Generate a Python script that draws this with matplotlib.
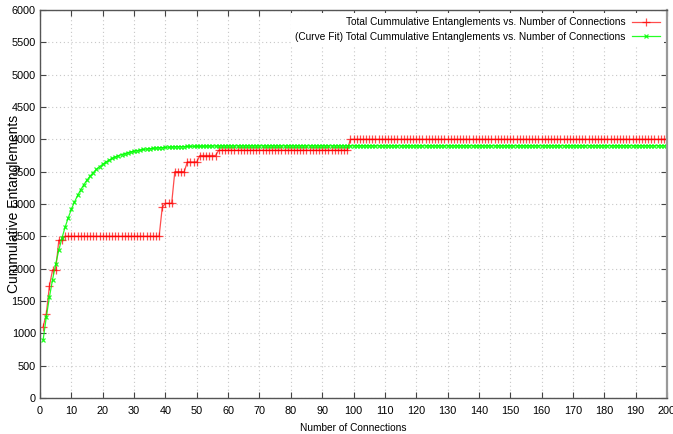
import matplotlib.pyplot as plt

# connection index 1..200
connections = list(range(1, 201))

# observed cumulative entanglements (step-like growth)
total_entanglements = [
    1100, 1300, 1730, 1980, 1980, 2440, 2440, 2500, 2500, 2500,
    2500, 2500, 2500, 2500, 2500, 2500, 2500, 2500, 2500, 2500,
    2500, 2500, 2500, 2500, 2500, 2500, 2500, 2500, 2500, 2500,
    2500, 2500, 2500, 2500, 2500, 2500, 2500, 2500, 2950, 3010,
    3010, 3010, 3500, 3500, 3500, 3500, 3650, 3650, 3650, 3650,
    3750, 3750, 3750, 3750, 3750, 3750, 3830, 3830, 3830, 3830,
    3830, 3830, 3830, 3830, 3830, 3830, 3830, 3830, 3830, 3830,
    3830, 3830, 3830, 3830, 3830, 3830, 3830, 3830, 3830, 3830,
    3830, 3830, 3830, 3830, 3830, 3830, 3830, 3830, 3830, 3830,
    3830, 3830, 3830, 3830, 3830, 3830, 3830, 3830, 4000, 4000,
    4000, 4000, 4000, 4000, 4000, 4000, 4000, 4000, 4000, 4000,
    4000, 4000, 4000, 4000, 4000, 4000, 4000, 4000, 4000, 4000,
    4000, 4000, 4000, 4000, 4000, 4000, 4000, 4000, 4000, 4000,
    4000, 4000, 4000, 4000, 4000, 4000, 4000, 4000, 4000, 4000,
    4000, 4000, 4000, 4000, 4000, 4000, 4000, 4000, 4000, 4000,
    4000, 4000, 4000, 4000, 4000, 4000, 4000, 4000, 4000, 4000,
    4000, 4000, 4000, 4000, 4000, 4000, 4000, 4000, 4000, 4000,
    4000, 4000, 4000, 4000, 4000, 4000, 4000, 4000, 4000, 4000,
    4000, 4000, 4000, 4000, 4000, 4000, 4000, 4000, 4000, 4000,
    4000, 4000, 4000, 4000, 4000, 4000, 4000, 4000, 4000, 4000,
]

# fitted curve values
fit_entanglements = [
    899, 1249, 1558, 1831, 2072, 2285, 2474, 2640, 2787, 2917,
    3031, 3133, 3222, 3301, 3371, 3433, 3487, 3535, 3578, 3615,
    3649, 3678, 3704, 3727, 3747, 3765, 3780, 3794, 3807, 3818,
    3827, 3836, 3843, 3850, 3856, 3861, 3865, 3869, 3873, 3876,
    3879, 3881, 3884, 3885, 3887, 3889, 3890, 3891, 3892, 3893,
    3894, 3895, 3896, 3896, 3897, 3897, 3898, 3898, 3898, 3899,
    3899, 3899, 3899, 3899, 3900, 3900, 3900, 3900, 3900, 3900,
    3900, 3900, 3900, 3900, 3900, 3900, 3900, 3900, 3900, 3900,
    3900, 3900, 3900, 3900, 3900, 3900, 3900, 3900, 3900, 3900,
    3900, 3900, 3900, 3900, 3900, 3900, 3900, 3900, 3900, 3900,
    3900, 3900, 3900, 3900, 3900, 3900, 3900, 3900, 3900, 3900,
    3900, 3900, 3900, 3900, 3900, 3900, 3900, 3900, 3900, 3900,
    3900, 3900, 3900, 3900, 3900, 3900, 3900, 3900, 3900, 3900,
    3900, 3900, 3900, 3900, 3900, 3900, 3900, 3900, 3900, 3900,
    3900, 3900, 3900, 3900, 3900, 3900, 3900, 3900, 3900, 3900,
    3900, 3900, 3900, 3900, 3900, 3900, 3900, 3900, 3900, 3900,
    3900, 3900, 3900, 3900, 3900, 3900, 3900, 3900, 3900, 3900,
    3900, 3900, 3900, 3900, 3900, 3900, 3900, 3900, 3900, 3900,
    3900, 3900, 3900, 3900, 3900, 3900, 3900, 3900, 3900, 3900,
    3900, 3900, 3900, 3900, 3900, 3900, 3900, 3900, 3900, 3900,
]

x_ticks = list(range(0, 201, 10))
y_ticks = list(range(0, 6001, 500))

plt.rcParams['font.family'] = ['Liberation Sans', 'DejaVu Sans']

fig = plt.figure(figsize=(6.73, 4.34), dpi=100)
ax = fig.add_axes([40 / 673, 36 / 434, 627 / 673, 388 / 434])

ax.plot(connections, total_entanglements, color='#ff0000', lw=0.9, alpha=0.7,
        marker='+', markersize=5.5, markeredgewidth=0.9,
        label='Total Cummulative Entanglements vs. Number of Connections')
ax.plot(connections, fit_entanglements, color='#00ff00', lw=0.9, alpha=0.85,
        marker='x', markersize=3.5, markeredgewidth=0.9,
        label='(Curve Fit) Total Cummulative Entanglements vs. Number of Connections')

ax.set_xlim(0, 200)
ax.set_ylim(0, 6000)
ax.set_xticks(x_ticks)
ax.set_yticks(y_ticks)
ax.tick_params(direction='in', length=4, width=0.8, color='#444444',
               labelsize=7.8, top=True, right=True, pad=3)
ax.tick_params(axis='x', pad=6)
ax.grid(True, color='#c8c8c8', linestyle=(0, (1, 2.5)), lw=0.8)
for side in ax.spines.values():
    side.set_color('#555555')
    side.set_linewidth(1)
ax.spines['right'].set_color('#999999')
ax.spines['right'].set_linewidth(1.6)

ax.set_xlabel('Number of Connections', fontsize=7.3, labelpad=5)
ax.set_ylabel('Cummulative Entanglements', fontsize=10)
ax.yaxis.set_label_coords(-0.031, 0.5)

leg = ax.legend(loc='upper right', markerfirst=False, fontsize=7.3,
                frameon=True, fancybox=False, edgecolor='none',
                framealpha=1, borderaxespad=0.3, handlelength=2.8,
                labelspacing=0.45, borderpad=0.4, handletextpad=0.6)
for t in leg.get_texts():
    t.set_horizontalalignment('right')

fig.savefig('out.png', dpi=100)
